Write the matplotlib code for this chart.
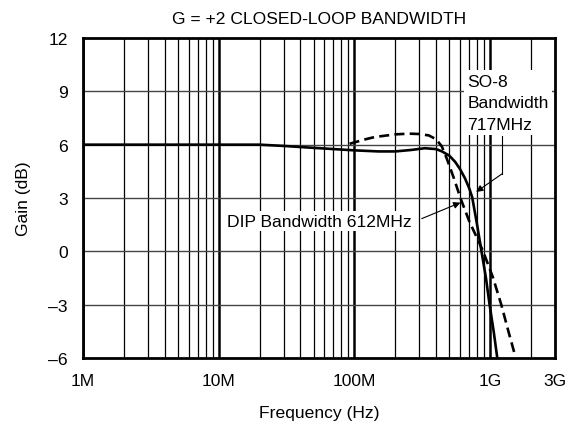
import matplotlib
matplotlib.use("Agg")
import matplotlib.pyplot as plt
import numpy as np

plt.rcParams['font.family'] = ['Liberation Sans', 'DejaVu Sans']

# SO-8 (solid) response
so8_freq = [1e6, 5e6, 10e6, 20e6, 30e6, 50e6, 100e6, 150e6, 200e6, 260e6, 330e6,
            400e6, 441e6, 500e6, 552e6, 600e6, 653e6, 700e6, 736e6, 800e6, 862e6,
            930e6, 989e6, 1060e6, 1127e6]
so8_gain = [6.0, 6.0, 6.0, 6.0, 5.93, 5.82, 5.68, 5.62, 5.62, 5.7, 5.8,
            5.75, 5.62, 5.38, 5.03, 4.62, 4.09, 3.55, 3.05, 1.5, 0.0,
            -1.5, -3.0, -4.5, -6.0]

# DIP (dashed) response
dip_freq = [92e6, 120e6, 141e6, 200e6, 251e6, 300e6, 353e6, 400e6, 440e6, 479e6,
            541e6, 603e6, 700e6, 887e6, 1050e6, 1206e6, 1350e6, 1499e6]
dip_gain = [6.05, 6.3, 6.43, 6.58, 6.62, 6.6, 6.52, 6.3, 5.9, 5.21,
            4.09, 3.0, 1.7, 0.0, -1.5, -3.0, -4.4, -5.66]

xtick_vals = [1e6, 1e7, 1e8, 1e9, 3e9]
xtick_labels = ["1M", "10M", "100M", "1G", "3G"]
ytick_vals = [-6, -3, 0, 3, 6, 9, 12]
ytick_labels = ["\u20136", "\u20133", "0", "3", "6", "9", "12"]

FS = 12.6

fig = plt.figure(figsize=(5.76, 4.27), dpi=100)
ax = fig.add_axes([83/576, 1 - 359/427, (555-83)/576, (359-39)/427])

ax.set_xscale('log')
ax.set_xlim(1e6, 3e9)
ax.set_ylim(-6, 12)

# grid
for dec in [1e6, 1e7, 1e8, 1e9]:
    for m in range(1, 10):
        f = dec * m
        if f >= 3e9:
            break
        if m == 1:
            ax.axvline(f, color='black', lw=1.8, zorder=1)
        else:
            ax.axvline(f, color='black', lw=0.9, zorder=1)
for y in [-3, 0, 3, 6, 9]:
    ax.axhline(y, color='#444444', lw=1.0, zorder=1)

ax.plot(so8_freq, so8_gain, color='black', lw=1.9, zorder=3)
ax.plot(dip_freq, dip_gain, color='black', lw=1.9, ls=(0, (3.8, 2.0)), zorder=3)

for s in ax.spines.values():
    s.set_linewidth(2.0)

ax.set_xticks(xtick_vals)
ax.set_xticklabels(xtick_labels)
ax.set_xticks([], minor=True)
ax.set_yticks(ytick_vals)
ax.set_yticklabels(ytick_labels)
ax.tick_params(length=0, labelsize=FS)
ax.tick_params(axis='y', pad=11)
ax.tick_params(axis='x', pad=11)

ax.set_xlabel("Frequency (Hz)", fontsize=FS, labelpad=12)
ax.set_ylabel("Gain (dB)", fontsize=FS, labelpad=12)
ax.set_title("G = +2 CLOSED-LOOP BANDWIDTH", fontsize=FS, pad=11)

# annotations
ax.text(6.76e8, 8.36, "SO-8\nBandwidth\n717MHz", fontsize=FS, ha='left', va='center',
        linespacing=1.55, zorder=5,
        bbox=dict(facecolor='white', edgecolor='none', pad=2.5))
ax.plot([1.227e9, 1.227e9], [6.5, 4.37], color='black', lw=0.8, zorder=4)
ax.annotate("", xy=(7.87e8, 3.34), xytext=(1.227e9, 4.37),
            arrowprops=dict(arrowstyle='-|>', color='black', lw=0.8,
                            mutation_scale=10, shrinkA=0, shrinkB=0), zorder=4)

ax.text(1.16e7, 1.7, "DIP Bandwidth 612MHz", fontsize=FS, ha='left', va='center',
        zorder=5, bbox=dict(facecolor='white', edgecolor='none', pad=2.0))
ax.annotate("", xy=(6.03e8, 2.74), xytext=(3.13e8, 1.84),
            arrowprops=dict(arrowstyle='-|>', color='black', lw=0.8,
                            mutation_scale=10, shrinkA=0, shrinkB=0), zorder=4)

fig.savefig("out.png", dpi=100)
